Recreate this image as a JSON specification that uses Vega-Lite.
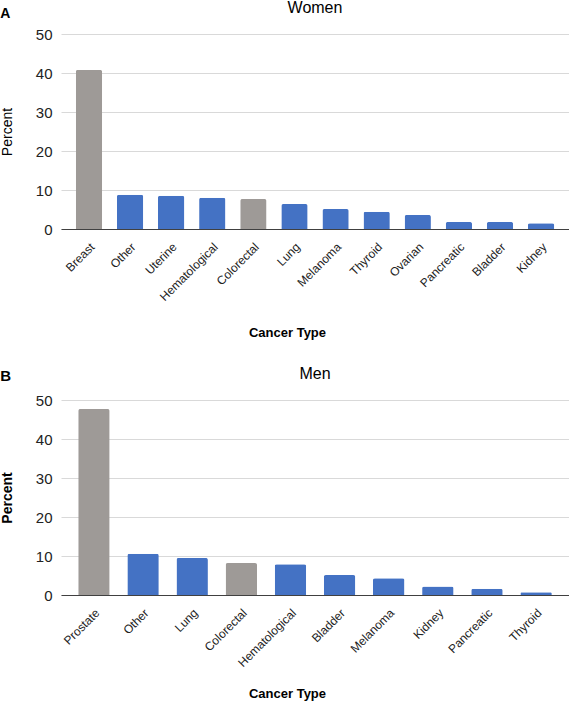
{
  "$schema": "https://vega.github.io/schema/vega-lite/v6.json",
  "padding": {"left": 0, "top": 0, "right": 0, "bottom": 0},
  "config": {
    "font": "Liberation Sans",
    "view": {"stroke": null},
    "title": {"fontSize": 16, "fontWeight": "normal", "color": "#000000", "font": "Liberation Sans"},
    "axis": {
      "labelFont": "Liberation Sans",
      "titleFont": "Liberation Sans",
      "labelColor": "#222222",
      "titleColor": "#000000",
      "ticks": false
    },
    "axisY": {
      "domain": false,
      "grid": true,
      "gridColor": "#d9d9d9",
      "gridWidth": 1,
      "labelFontSize": 15,
      "labelPadding": 9,
      "titleFontSize": 14,
      "titlePadding": 21
    },
    "axisX": {
      "domain": true,
      "domainColor": "#404040",
      "domainWidth": 1.2,
      "grid": false,
      "labelAngle": -45,
      "labelFontSize": 12,
      "labelPadding": 12,
      "titleFontSize": 13,
      "titleFontWeight": "bold",
      "titlePadding": 24,
      "titleX": 226
    }
  },
  "datasets": {
    "women": [
      {"cancer": "Breast", "percent": 40.8, "screened": "yes"},
      {"cancer": "Other", "percent": 8.8, "screened": "no"},
      {"cancer": "Uterine", "percent": 8.5, "screened": "no"},
      {"cancer": "Hematological", "percent": 8.0, "screened": "no"},
      {"cancer": "Colorectal", "percent": 7.7, "screened": "yes"},
      {"cancer": "Lung", "percent": 6.4, "screened": "no"},
      {"cancer": "Melanoma", "percent": 5.1, "screened": "no"},
      {"cancer": "Thyroid", "percent": 4.4, "screened": "no"},
      {"cancer": "Ovarian", "percent": 3.6, "screened": "no"},
      {"cancer": "Pancreatic", "percent": 1.8, "screened": "no"},
      {"cancer": "Bladder", "percent": 1.8, "screened": "no"},
      {"cancer": "Kidney", "percent": 1.5, "screened": "no"}
    ],
    "men": [
      {"cancer": "Prostate", "percent": 47.7, "screened": "yes"},
      {"cancer": "Other", "percent": 10.6, "screened": "no"},
      {"cancer": "Lung", "percent": 9.5, "screened": "no"},
      {"cancer": "Colorectal", "percent": 8.2, "screened": "yes"},
      {"cancer": "Hematological", "percent": 7.9, "screened": "no"},
      {"cancer": "Bladder", "percent": 5.1, "screened": "no"},
      {"cancer": "Melanoma", "percent": 4.3, "screened": "no"},
      {"cancer": "Kidney", "percent": 2.2, "screened": "no"},
      {"cancer": "Pancreatic", "percent": 1.6, "screened": "no"},
      {"cancer": "Thyroid", "percent": 0.7, "screened": "no"}
    ]
  },
  "spacing": 26,
  "vconcat": [
    {
      "title": {"text": "A", "anchor": "start", "frame": "bounds", "fontWeight": "bold", "fontSize": 14, "dy": 25},
      "vconcat": [
        {
          "data": {"name": "women"},
          "width": 508,
          "height": 195,
          "title": {"text": "Women", "offset": 11},
          "mark": {"type": "bar", "cornerRadiusEnd": 2},
          "encoding": {
            "x": {"field": "cancer", "type": "nominal", "sort": null,
                  "scale": {"paddingInner": 0.36, "paddingOuter": 0.36},
                  "axis": {"title": "Cancer Type"}},
            "y": {"field": "percent", "type": "quantitative",
                  "scale": {"domain": [0, 50], "nice": false},
                  "axis": {"title": "Percent", "values": [0, 10, 20, 30, 40, 50], "titleFontWeight": "normal"}},
            "color": {"field": "screened", "type": "nominal",
                      "scale": {"domain": ["yes", "no"], "range": ["#9e9a97", "#4472c4"]},
                      "legend": null}
          }
        }
      ]
    },
    {
      "title": {"text": "B", "anchor": "start", "frame": "bounds", "fontWeight": "bold", "fontSize": 15, "dy": 22},
      "vconcat": [
        {
          "data": {"name": "men"},
          "width": 508,
          "height": 195,
          "title": {"text": "Men", "offset": 11},
          "mark": {"type": "bar", "cornerRadiusEnd": 2},
          "encoding": {
            "x": {"field": "cancer", "type": "nominal", "sort": null,
                  "scale": {"paddingInner": 0.36, "paddingOuter": 0.35},
                  "axis": {"title": "Cancer Type", "titlePadding": 19}},
            "y": {"field": "percent", "type": "quantitative",
                  "scale": {"domain": [0, 50], "nice": false},
                  "axis": {"title": "Percent", "values": [0, 10, 20, 30, 40, 50], "titleFontWeight": "bold"}},
            "color": {"field": "screened", "type": "nominal",
                      "scale": {"domain": ["yes", "no"], "range": ["#9e9a97", "#4472c4"]},
                      "legend": null}
          }
        }
      ]
    }
  ]
}
